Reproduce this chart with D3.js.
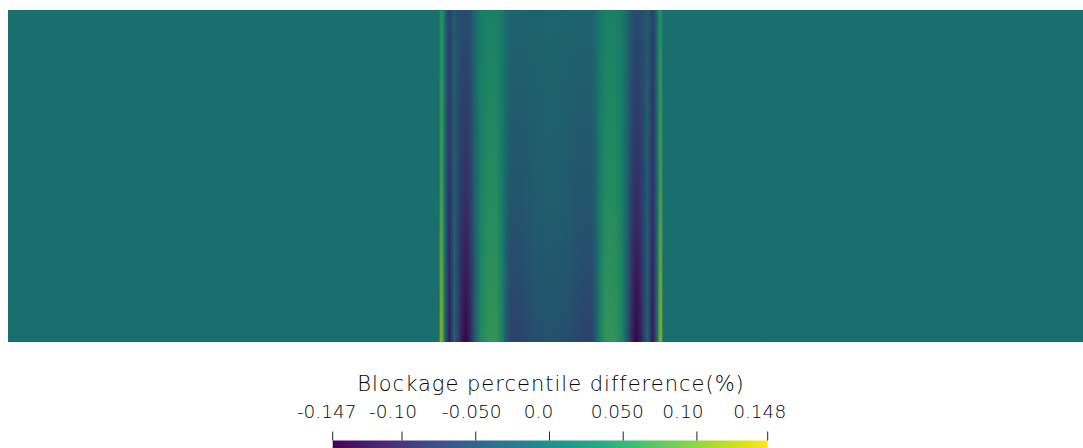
<!DOCTYPE html>
<html>
<head>
<meta charset="utf-8">
<script src="https://cdn.jsdelivr.net/npm/d3@7"></script>
<style>
  body { margin: 0; background: #fff; }
  svg { display: block; }
</style>
</head>
<body>
<script>

// sample positions across the section (0 = left edge, 100 = right edge)
var positions = [0, 40.09, 40.23, 40.42, 40.60, 40.84, 41.07, 41.30, 41.53, 41.86, 42.23, 42.60, 42.98, 43.44, 44.00, 44.65, 45.40, 45.95, 46.33, 46.79, 47.81, 49.12, 50.51,
                 51.91, 53.21, 54.23, 54.70, 55.07, 55.63, 56.37, 57.02, 57.58, 58.05, 58.42, 58.79, 59.16, 59.49, 59.72, 59.95, 60.19, 60.42, 60.60, 60.79, 60.93, 100];

// blockage difference (%) along three rows of the surface: top, middle, bottom
var topRow = [0, 0, 0.040, 0.045, 0.005, -0.050, -0.070, -0.050, -0.030, -0.045, -0.055, -0.055, -0.045, -0.010, 0.020, 0.030, 0.030, 0.015, -0.005, -0.020, -0.020, -0.018, -0.015,
              -0.018, -0.020, -0.020, -0.005, 0.015, 0.030, 0.030, 0.020, -0.010, -0.045, -0.055, -0.055, -0.045, -0.030, -0.050, -0.070, -0.050, 0.005, 0.045, 0.040, 0, 0];
var midRow = [0, 0, 0.070, 0.065, 0.005, -0.060, -0.095, -0.060, -0.025, -0.060, -0.085, -0.095, -0.080, -0.020, 0.030, 0.045, 0.045, 0.020, -0.015, -0.040, -0.040, -0.030, -0.025,
              -0.030, -0.040, -0.040, -0.015, 0.020, 0.045, 0.045, 0.030, -0.020, -0.080, -0.095, -0.085, -0.060, -0.025, -0.060, -0.095, -0.060, 0.005, 0.065, 0.070, 0, 0];
var bottomRow = [0, 0, 0.110, 0.100, 0.010, -0.070, -0.120, -0.070, -0.020, -0.070, -0.120, -0.140, -0.110, -0.030, 0.040, 0.060, 0.060, 0.030, -0.030, -0.070, -0.065, -0.050, -0.045,
                 -0.050, -0.065, -0.070, -0.030, 0.030, 0.060, 0.060, 0.040, -0.030, -0.110, -0.140, -0.120, -0.070, -0.020, -0.070, -0.120, -0.070, 0.010, 0.100, 0.110, 0, 0];
var rowDepth = [0, 0.55, 1];

var valueRange = [-0.147, 0.148];
var ticks = [-0.147, -0.10, -0.050, 0.0, 0.050, 0.10, 0.148];
var tickLabels = ["-0.147", "-0.10", "-0.050", "0.0", "0.050", "0.10", "0.148"];
var title = "Blockage percentile difference(%)";

var width = 1083, height = 448;
var plot = {left: 8, right: 1083, top: 10, bottom: 342};
var bar = {left: 332.7, right: 767.7, top: 440.5, bottom: 448};
var labelNudge = [-6, -9, -4, -11, -6, -14, -8];
var light = 0.77;   // surface shading
var font = "'DejaVu Sans', sans-serif";

var xScale = d3.scaleLinear().domain([0, 100]).range([plot.left, plot.right]);
var yScale = d3.scaleLinear().domain([0, 1]).range([plot.top, plot.bottom]);
var color = d3.scaleSequential(d3.interpolateViridis).domain(valueRange);
var cbScale = d3.scaleLinear().domain(valueRange).range([bar.left, bar.right]);

function shade(v) {
  var c = d3.rgb(color(v));
  return d3.rgb(c.r * light, c.g * light, c.b * light).formatHex();
}

var svg = d3.select("body").append("svg")
  .attr("width", width)
  .attr("height", height);
var defs = svg.append("defs");

//one horizontal gradient per row
var rows = [topRow, midRow, bottomRow];
rows.forEach(function(row, i) {
  defs.append("linearGradient")
    .attr("id", "row" + i)
    .attr("gradientUnits", "userSpaceOnUse")
    .attr("x1", plot.left).attr("x2", plot.right)
    .attr("y1", 0).attr("y2", 0)
    .selectAll("stop")
    .data(positions)
    .enter().append("stop")
    .attr("offset", function(d) { return (xScale(d) - plot.left) / (plot.right - plot.left); })
    .attr("stop-color", function(d, j) { return shade(row[j]); });
});

//vertical fades so the rows blend into each other
[0, 1].forEach(function(i) {
  defs.append("linearGradient")
    .attr("id", "fade" + i)
    .attr("gradientUnits", "userSpaceOnUse")
    .attr("x1", 0).attr("x2", 0)
    .attr("y1", yScale(rowDepth[i])).attr("y2", yScale(rowDepth[i + 1]))
    .selectAll("stop")
    .data([["0", "#fff"], ["1", "#000"]])
    .enter().append("stop")
    .attr("offset", function(d) { return d[0]; })
    .attr("stop-color", function(d) { return d[1]; });

  defs.append("mask")
    .attr("id", "mask" + i)
    .attr("maskUnits", "userSpaceOnUse")
    .attr("x", 0).attr("y", 0).attr("width", width).attr("height", height)
    .append("rect")
    .attr("x", 0).attr("y", 0).attr("width", width).attr("height", height)
    .attr("fill", "url(#fade" + i + ")");
});

var surface = svg.append("g");
[2, 1, 0].forEach(function(i) {
  surface.append("rect")
    .attr("x", plot.left).attr("y", plot.top)
    .attr("width", plot.right - plot.left)
    .attr("height", plot.bottom - plot.top)
    .attr("fill", "url(#row" + i + ")")
    .attr("mask", i < 2 ? "url(#mask" + i + ")" : null);
});

//Color legend
var cbGrad = defs.append("linearGradient")
  .attr("id", "cb")
  .attr("gradientUnits", "userSpaceOnUse")
  .attr("x1", bar.left).attr("x2", bar.right)
  .attr("y1", 0).attr("y2", 0);
cbGrad.selectAll("stop")
  .data(d3.range(0, 1.0001, 0.05))
  .enter().append("stop")
  .attr("offset", function(d) { return d; })
  .attr("stop-color", function(d) { return d3.interpolateViridis(d); });

svg.append("rect")
  .attr("x", bar.left).attr("y", bar.top)
  .attr("width", bar.right - bar.left)
  .attr("height", bar.bottom - bar.top)
  .attr("fill", "url(#cb)");

svg.append("g").selectAll("line")
  .data(ticks)
  .enter().append("line")
  .attr("x1", function(d) { return cbScale(d); })
  .attr("x2", function(d) { return cbScale(d); })
  .attr("y1", bar.top - 9)
  .attr("y2", bar.top)
  .attr("stroke", "#222")
  .attr("stroke-width", 1);

svg.append("g").selectAll("text")
  .data(ticks)
  .enter().append("text")
  .attr("x", function(d, i) { return cbScale(d) + labelNudge[i]; })
  .attr("y", 418)
  .attr("text-anchor", "middle")
  .attr("font-family", font)
  .attr("font-weight", 200)
  .attr("font-size", 18.5)
  .attr("fill", "#000")
  .text(function(d, i) { return tickLabels[i]; });

svg.append("text")
  .attr("x", 551)
  .attr("y", 391)
  .attr("text-anchor", "middle")
  .attr("font-family", font)
  .attr("font-weight", 200)
  .attr("font-size", 21)
  .attr("letter-spacing", 1)
  .attr("fill", "#000")
  .text(title);

</script>
</body>
</html>
